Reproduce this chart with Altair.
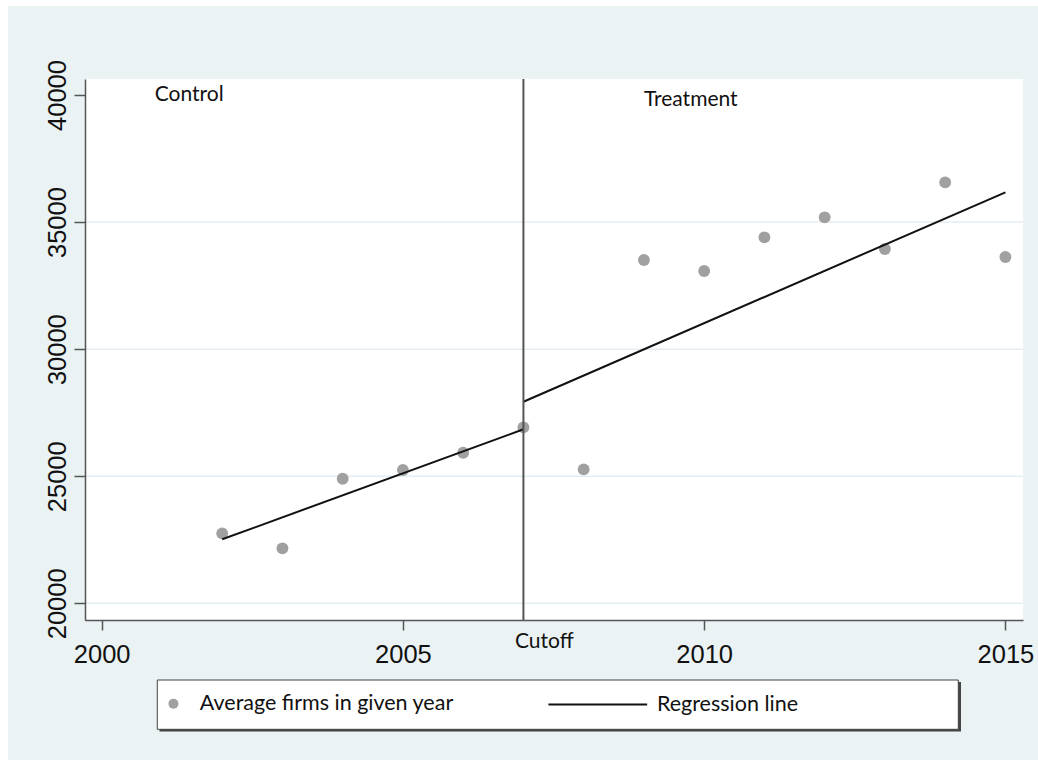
import altair as alt
import pandas as pd

# Average number of firms per year
years = list(range(2002, 2016))
avg_firms = [22754, 22164, 24902, 25244, 25925, 26924, 25271,
             33508, 33075, 34401, 35188, 33941, 36565, 33626]

# Fitted values of the regression on each side of the cutoff
fit_segment = ["Control", "Control", "Treatment", "Treatment"]
fit_year = [2002, 2007, 2007, 2015]
fit_value = [22518, 26846, 27932, 36172]

cutoff_year = [2007]

x_ticks = [2000, 2005, 2010, 2015]
y_ticks = [20000, 25000, 30000, 35000, 40000]
grid_values = [20000, 25000, 30000, 35000]

note_text = ["Control", "Treatment", "Cutoff"]
note_year = [2000.88, 2009.0, 2006.86]
note_value = [39752, 39567, 18253]

POINT_LABEL = "Average firms in given year"
LINE_LABEL = "Regression line"

W, H = 938, 541
BG = "#EAF2F3"
INK = "#111111"
AXIS_GREY = "#555555"

pts = pd.DataFrame({"year": years, "firms": avg_firms, "series": POINT_LABEL})
fit = pd.DataFrame({"segment": fit_segment, "year": fit_year,
                    "fitted": fit_value, "series": LINE_LABEL})
cut = pd.DataFrame({"year": cutoff_year})
grid = pd.DataFrame({"value": grid_values})
notes = pd.DataFrame({"text": note_text, "year": note_year, "value": note_value})
one = pd.DataFrame({"k": [0]})

x_scale = alt.Scale(domain=[1999.723, 2015.292], nice=False, zero=False)
y_scale = alt.Scale(domain=[19343, 40630], nice=False, zero=False)

x_axis = alt.Axis(values=x_ticks, format="d", title=None, grid=False,
                  domainColor=AXIS_GREY, domainWidth=1.5,
                  tickColor=AXIS_GREY, tickWidth=1.5, tickSize=10,
                  labelFont="Liberation Sans", labelFontSize=25.5,
                  labelColor=INK, labelPadding=12, labelFlush=False,
                  labelOverlap=False, zindex=1)
y_axis = alt.Axis(values=y_ticks, format="d", title=None, grid=False,
                  domainColor=AXIS_GREY, domainWidth=1.5,
                  tickColor=AXIS_GREY, tickWidth=1.5, tickSize=11,
                  labelFont="Liberation Sans", labelFontSize=25.5,
                  labelColor=INK, labelAngle=270, labelAlign="center",
                  labelBaseline="alphabetic", labelPadding=9,
                  labelFlush=False, labelOverlap=False, zindex=1)


def xq(field):
    return alt.X(field, type="quantitative", scale=x_scale, axis=x_axis)


def yq(field):
    return alt.Y(field, type="quantitative", scale=y_scale, axis=y_axis)


# Page panel, plot region and legend frame
panel = alt.Chart(one).mark_rect(fill=BG).encode(
    x=alt.value(-77), x2=alt.value(953), y=alt.value(-73), y2=alt.value(681))
plot_region = alt.Chart(one).mark_rect(fill="white").encode(
    x=alt.value(0), x2=alt.value(W), y=alt.value(0), y2=alt.value(H))
legend_shadow = alt.Chart(one).mark_rect(fill="#444444").encode(
    x=alt.value(74.5), x2=alt.value(876), y=alt.value(603), y2=alt.value(652.5))
legend_frame = alt.Chart(one).mark_rect(fill="white", stroke="#444444", strokeWidth=1).encode(
    x=alt.value(72.3), x2=alt.value(873.3), y=alt.value(601), y2=alt.value(650.3))

grid_lines = alt.Chart(grid).mark_rule(color="#E4EDF1", strokeWidth=1.5).encode(
    y=yq("value"))

points = alt.Chart(pts).mark_point(filled=True, size=140, opacity=1, strokeWidth=0).encode(
    x=xq("year"),
    y=yq("firms"),
    fill=alt.Fill("series:N",
                  scale=alt.Scale(domain=[POINT_LABEL], range=["#A0A0A0"]),
                  legend=alt.Legend(orient="none", legendX=77.7, legendY=614,
                                    title=None, symbolType="circle", symbolSize=100,
                                    symbolStrokeWidth=0, labelOffset=15.6,
                                    labelLimit=500, labelFont="Lato",
                                    labelFontSize=21.5, labelColor=INK, padding=0)),
)

fit_lines = alt.Chart(fit).mark_line(strokeWidth=2).encode(
    x=xq("year"),
    y=yq("fitted"),
    detail="segment:N",
    stroke=alt.Stroke("series:N",
                      scale=alt.Scale(domain=[LINE_LABEL], range=[INK]),
                      legend=alt.Legend(orient="none", legendX=462.3, legendY=575,
                                        title=None, symbolType="stroke",
                                        symbolSize=9742, symbolStrokeWidth=2,
                                        labelOffset=8.6, labelLimit=500,
                                        labelFont="Lato", labelFontSize=21.5,
                                        labelColor=INK, padding=0)),
)

cutoff = alt.Chart(cut).mark_rule(color="#555555", strokeWidth=2).encode(
    x=xq("year"))

labels = alt.Chart(notes).mark_text(align="left", baseline="alphabetic",
                                    font="Lato", fontSize=21, color=INK).encode(
    x=xq("year"),
    y=yq("value"),
    text="text:N",
)

chart = alt.layer(
    panel, plot_region, legend_shadow, legend_frame,
    grid_lines, points, fit_lines, cutoff, labels,
).properties(
    width=W, height=H,
    padding={"left": 85, "top": 79, "right": 15, "bottom": 140},
    autosize=alt.AutoSizeParams(type="none"),
    background="white",
).configure_view(strokeWidth=0)

chart.save("out.html", embed_options={"renderer": "svg", "actions": False})
